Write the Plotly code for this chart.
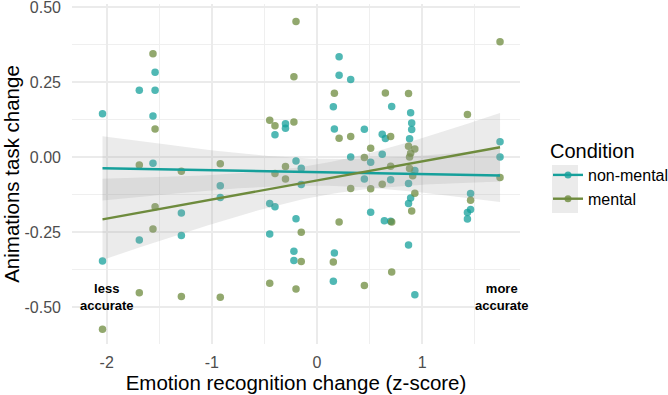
import numpy as np
import plotly.graph_objects as go

# ---- data ----
nonmental_x = [-2.04, -2.04, -1.69, -1.69, -1.54, -1.54, -1.56, -1.56, -1.29, -1.29,
               -0.92, -0.92, -0.45, -0.45, -0.40, -0.40, -0.30, -0.30, -0.22, -0.22,
               -0.20, -0.20, -0.15, -0.15, 0.155, 0.155, 0.165, 0.165, 0.21, 0.21,
               0.32, 0.32, 0.45, 0.45, 0.51, 0.51, 0.62, 0.62, 0.65, 0.64,
               0.71, 0.70, 0.70, 0.89, 0.90, 0.90, 0.88, 0.93, 0.87, 0.89,
               0.87, 0.87, 0.93, 1.46, 1.46, 1.43, 1.43, 1.74, 1.74]
nonmental_y = [0.145, -0.346, 0.223, -0.276, 0.283, 0.223, 0.137, -0.020, -0.186, -0.261,
               -0.095, -0.134, -0.154, -0.256, 0.075, -0.165, 0.111, 0.096, -0.313, -0.344,
               -0.013, -0.205, -0.037, -0.091, 0.168, -0.413, 0.094, -0.319, 0.334, 0.273,
               0.259, 0.001, 0.093, -0.073, -0.017, -0.183, 0.076, 0.010, 0.062, -0.212,
               0.169, -0.075, -0.213, 0.148, 0.114, 0.092, 0.061, -0.044, -0.088, -0.136,
               -0.154, -0.292, -0.458, -0.121, -0.174, -0.184, -0.206, 0.051, 0.001]

mental_x = [-2.04, -1.69, -1.69, -1.56, -1.56, -1.54, -1.54, -1.29, -1.29, -0.92,
            -0.92, -0.45, -0.45, -0.40, -0.40, -0.30, -0.30, -0.22, -0.22, -0.20,
            -0.20, -0.15, -0.15, 0.155, 0.165, 0.21, 0.21, 0.32, 0.32, 0.45,
            0.45, 0.51, 0.51, 0.62, 0.65, 0.70, 0.70, 0.71, 0.71, 0.87,
            0.87, 0.93, 0.89, 0.88, 0.88, 0.91, 0.93, 0.90, 1.43, 1.46,
            1.74, 1.74]
mental_y = [-0.573, -0.026, -0.451, 0.344, -0.239, 0.094, -0.165, -0.047, -0.464, -0.022,
            -0.466, 0.123, -0.420, 0.105, -0.054, -0.031, -0.073, 0.268, 0.117, 0.452,
            -0.439, -0.250, -0.347, -0.349, 0.213, 0.063, -0.216, 0.069, -0.104, -0.001,
            -0.427, 0.030, -0.105, -0.090, 0.214, 0.069, -0.030, -0.216, -0.382, 0.212,
            0.036, 0.027, 0.013, 0.001, -0.038, -0.062, -0.120, -0.179, 0.142, -0.143,
            0.384, -0.068]

# regression fit: value of the fitted line and the
# half-width of its confidence band at the left and right ends of the data
nonmental_fit_ends = [-0.037, -0.061]
nonmental_band_halfwidth = [0.107, 0.088]
mental_fit_ends = [-0.207, 0.033]
mental_band_halfwidth = [0.135, 0.114]

condition_names = ["non-mental", "mental"]
x_tick_vals = [-2, -1, 0, 1]
x_tick_text = ["-2", "-1", "0", "1"]
y_tick_vals = [0.5, 0.25, 0.0, -0.25, -0.5]
y_tick_text = ["0.50", "0.25", "0.00", "-0.25", "-0.50"]

TEAL = "#16A09B"
OLIVE = "#6E8B3D"
FONT = "Liberation Sans"


def fit_band(xs, ends, halfw, n_grid=80):
    xs = np.asarray(xs, float)
    x0, x1 = xs.min(), xs.max()
    xm = xs.mean()
    grid = np.linspace(x0, x1, n_grid)
    fit = ends[0] + (ends[1] - ends[0]) * (grid - x0) / (x1 - x0)
    # hyperbolic band: h(x)^2 = a + b (x - xm)^2 through the two end widths
    d0, d1 = (x0 - xm) ** 2, (x1 - xm) ** 2
    b = (halfw[0] ** 2 - halfw[1] ** 2) / (d0 - d1)
    a = halfw[0] ** 2 - b * d0
    h = np.sqrt(np.maximum(a + b * (grid - xm) ** 2, 1e-6))
    return grid, fit, fit - h, fit + h


fig = go.Figure()

series = [(nonmental_x, nonmental_y, nonmental_fit_ends, nonmental_band_halfwidth, TEAL, condition_names[0]),
          (mental_x, mental_y, mental_fit_ends, mental_band_halfwidth, OLIVE, condition_names[1])]

# points
for xs, ys, fe, hw, col, name in series:
    fig.add_trace(go.Scatter(x=xs, y=ys, mode="markers", showlegend=False,
                             marker=dict(color=col, size=7.5, opacity=0.75, line=dict(width=0)),
                             hoverinfo="skip", cliponaxis=False))

# ribbons
fits = []
for xs, ys, fe, hw, col, name in series:
    g, f, lo, hi = fit_band(xs, fe, hw)
    fits.append((g, f, col))
    fig.add_trace(go.Scatter(x=np.concatenate([g, g[::-1]]), y=np.concatenate([hi, lo[::-1]]),
                             fill="toself", fillcolor="rgba(153,153,153,0.2)",
                             line=dict(width=0), mode="lines", showlegend=False, hoverinfo="skip"))
# fit lines
for g, f, col in fits:
    fig.add_trace(go.Scatter(x=g, y=f, mode="lines", line=dict(color=col, width=2.4),
                             showlegend=False, hoverinfo="skip"))

# legend entries
for xs, ys, fe, hw, col, name in series:
    fig.add_trace(go.Scatter(x=[None], y=[None], mode="lines+markers", name=name,
                             line=dict(color=col, width=2.4),
                             marker=dict(color=col, size=7, opacity=0.8)))

L, R, T, B = 72, 148, 4, 51
W, H = 668, 395
pw, ph = W - L - R, H - T - B


def px_x(p):
    return (p - L) / pw


def px_y(p):
    return (H - B - p) / ph


fig.add_shape(type="rect", xref="paper", yref="paper",
              x0=px_x(552), x1=px_x(578), y0=px_y(213), y1=px_y(165),
              fillcolor="#EBEBEB", line=dict(width=0), layer="below")

fig.add_annotation(x=-2.0, y=-0.466, text="<b>less<br>accurate</b>", showarrow=False,
                   font=dict(family=FONT, size=13, color="black"), align="center")
fig.add_annotation(x=1.75, y=-0.464, text="<b>more<br>accurate</b>", showarrow=False,
                   font=dict(family=FONT, size=13, color="black"), align="center")

axis_common = dict(showline=False, zeroline=False, ticks="", automargin=False,
                   ticklabeloverflow="allow",
                   gridcolor="#EBEBEB", gridwidth=1.6,
                   tickfont=dict(family=FONT, size=16, color="#4D4D4D"))

fig.update_xaxes(range=[-2.33, 1.93], tickvals=x_tick_vals, ticktext=x_tick_text,
                 title=dict(text="Emotion recognition change (z-score)",
                            font=dict(family=FONT, size=20.5, color="black"), standoff=1),
                 minor=dict(dtick=0.5, tick0=0.5, showgrid=True, gridcolor="#EFEFEF", gridwidth=0.8),
                 ticklabelstandoff=7, **axis_common)
fig.update_yaxes(range=[-0.622, 0.51], tickvals=y_tick_vals, ticktext=y_tick_text,
                 title=dict(text="Animations task change",
                            font=dict(family=FONT, size=20.5, color="black"), standoff=1),
                 minor=dict(dtick=0.125, tick0=0.125, showgrid=True, gridcolor="#EFEFEF", gridwidth=0.8),
                 ticklabelstandoff=10, **axis_common)

fig.update_layout(
    width=W, height=H,
    margin=dict(l=L, r=R, t=T, b=B, pad=0, autoexpand=False),
    plot_bgcolor="white", paper_bgcolor="white",
    font=dict(family=FONT),
    legend=dict(xref="container", yref="container", x=548 / W, y=1 - 132 / H,
                xanchor="left", yanchor="top",
                title=dict(text="Condition", font=dict(family=FONT, size=20, color="black")),
                font=dict(family=FONT, size=16, color="black"),
                bgcolor="rgba(0,0,0,0)", itemwidth=30, tracegroupgap=0),
)

fig.write_html("out.html", config={"displayModeBar": False},
               post_script="document.body.style.margin='0';document.body.style.overflow='hidden';")
